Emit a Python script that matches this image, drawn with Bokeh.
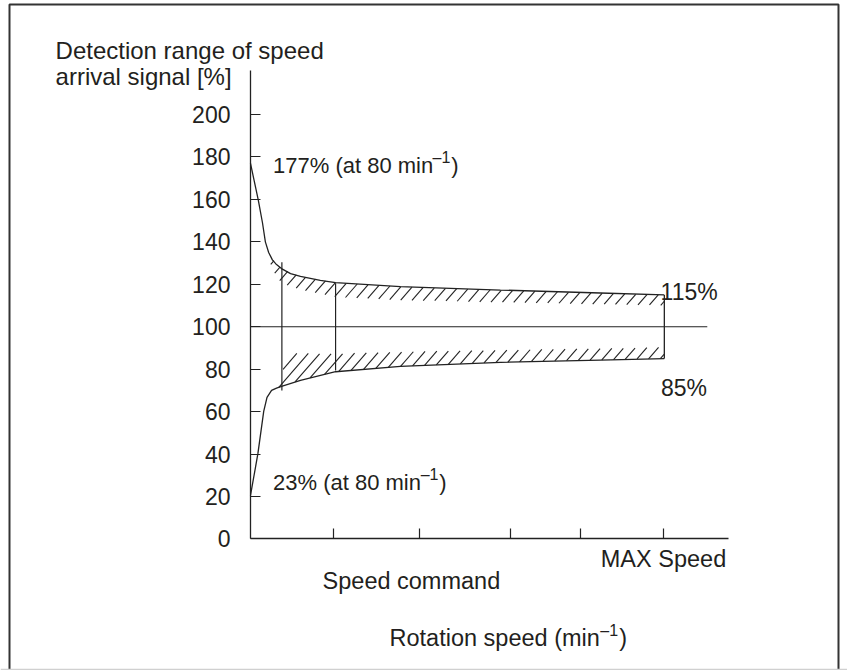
import numpy as np
from bokeh.plotting import figure
from bokeh.models import LinearAxis, FixedTicker, Label, Range1d, BoxAnnotation, Span
from bokeh.embed import file_html
from bokeh.resources import INLINE

# ---------------- data ----------------
y_ticks = [0, 20, 40, 60, 80, 100, 120, 140, 160, 180, 200]
x_ticks = [20, 41, 63, 80, 100]
x_tick_labels = ["", "", "", "", "MAX Speed"]

# upper limit curve of the detection range [%] vs speed (MAX speed = 100)
upper_x = [0, 1.9, 2.9, 3.6, 4.4, 5.3, 6.3, 7.5, 9.7, 12.1, 16.9, 20.6, 36.3, 60.5, 84.7, 100.2]
upper_y = [177, 159.5, 149, 140, 135, 131.5, 129.3, 127.4, 125, 123.7, 121.8, 120.8, 118.9, 117.3, 115.9, 115]

# lower limit curve
lower_x = [0, 1.8, 3.2, 4.0, 5.1, 6.3, 7.7, 12.1, 20.6, 36.3, 60.5, 84.7, 100.2]
lower_y = [20.5, 40.3, 60.1, 66.7, 70, 71.1, 72, 74.7, 78.8, 81.3, 83.2, 84.3, 85]

# hatched tolerance bands
upper_hatch_x = [4.9, 7.5, 12.1, 20.6, 36.3, 60.5, 100.2]
upper_hatch_bottom = [128, 120.5, 117.5, 114, 112.5, 111.5, 110]
lower_hatch_x = [5.1, 7.7, 9.2, 12.1, 20.6, 36.3, 60.5, 100.2]
lower_hatch_top = [71, 79, 87.5, 87.5, 87.3, 88.2, 89, 90.3]

# speed command markers
cmd_x = [7.6, 20.6]
cmd_low = [70, 79.4]
cmd_high = [130.4, 120.5]

ref_level = 100
ref_line_end = 110.6
x_axis_end = 115.7
y_axis_end = 220.7

# ---------------- styles ----------------
INK = "#222222"
TXT = "#231f20"
FONT = "Liberation Sans"
HATCH_STEP_PX = 11.5
HATCH_SLOPE = 1.15

xr = Range1d(-60.53, 144.55)
yr = Range1d(-61.96, 253.71)
p = figure(width=847, height=670, x_range=xr, y_range=yr,
           output_backend="svg", toolbar_location=None,
           x_axis_type=None, y_axis_type=None, min_border=0)
p.grid.visible = False
p.outline_line_color = None
p.background_fill_color = "white"
p.border_fill_color = "white"

# page frame
p.add_layout(BoxAnnotation(left=-58.35, right=142.37, top=251.83, bottom=-70,
                           fill_alpha=0, line_color="#333333", line_alpha=1.0, line_width=2))
p.add_layout(Span(location=-61.48, dimension="width", line_color="#d0d0d0", line_width=1.5))

# pixels per data unit (from the figure's own size and ranges)
sx = p.width / (xr.end - xr.start)
sy = p.height / (yr.end - yr.start)


def hatch_segments(hx, top, bot):
    """Diagonal hatch strokes clipped to the band between bot and top."""
    X = np.arange(hx[0] * sx, hx[-1] * sx, 0.25)
    xd = X / sx
    T = np.interp(xd, hx, top) * sy
    B = np.interp(xd, hx, bot) * sy
    c_all = X - T / HATCH_SLOPE
    c_lo = np.floor(c_all.min() / HATCH_STEP_PX) * HATCH_STEP_PX
    c_hi = (X - B / HATCH_SLOPE).max()
    x0s, y0s, x1s, y1s = [], [], [], []
    for c in np.arange(c_lo, c_hi, HATCH_STEP_PX):
        Y = (X - c) * HATCH_SLOPE
        idx = np.where((Y >= B) & (Y <= T))[0]
        if len(idx) < 2:
            continue
        a, b = X[idx[0]], X[idx[-1]]
        x0s.append(a / sx); y0s.append((a - c) * HATCH_SLOPE / sy)
        x1s.append(b / sx); y1s.append((b - c) * HATCH_SLOPE / sy)
    return x0s, y0s, x1s, y1s


ut = np.interp(upper_hatch_x, upper_x, upper_y)
hx0, hy0, hx1, hy1 = hatch_segments(upper_hatch_x, ut, upper_hatch_bottom)
p.segment(x0=hx0, y0=hy0, x1=hx1, y1=hy1, line_color=INK, line_width=1.1)
lb = np.interp(lower_hatch_x, lower_x, lower_y)
hx0, hy0, hx1, hy1 = hatch_segments(lower_hatch_x, lower_hatch_top, lb)
p.segment(x0=hx0, y0=hy0, x1=hx1, y1=hy1, line_color=INK, line_width=1.1)

# curves
p.line(upper_x, upper_y, line_color=INK, line_width=1.3)
p.line(lower_x, lower_y, line_color=INK, line_width=1.3)

# reference line at 100 %
p.segment(x0=[0], y0=[ref_level], x1=[ref_line_end], y1=[ref_level], line_color=INK, line_width=1.2)

# speed-command verticals and right end of band
p.segment(x0=cmd_x, y0=cmd_low, x1=cmd_x, y1=cmd_high, line_color=INK, line_width=1.2)
p.segment(x0=[upper_x[-1]], y0=[lower_y[-1]], x1=[upper_x[-1]], y1=[upper_y[-1]],
          line_color=INK, line_width=1.3)

# axes
yaxis = LinearAxis(fixed_location=0, bounds=(0, y_axis_end),
                   ticker=FixedTicker(ticks=y_ticks),
                   major_tick_in=10, major_tick_out=0, minor_tick_in=0, minor_tick_out=0,
                   major_label_standoff=20, axis_line_color=INK, major_tick_line_color=INK,
                   axis_line_width=1.3, major_tick_line_width=1.2,
                   major_label_text_font_size="23px", major_label_text_font=FONT,
                   major_label_text_color=TXT)
p.add_layout(yaxis, "left")

xaxis = LinearAxis(fixed_location=0, bounds=(0, x_axis_end),
                   ticker=FixedTicker(ticks=x_ticks),
                   major_label_overrides={t: l for t, l in zip(x_ticks, x_tick_labels)},
                   major_tick_in=10, major_tick_out=0, minor_tick_in=0, minor_tick_out=0,
                   major_label_standoff=7, axis_line_color=INK, major_tick_line_color=INK,
                   axis_line_width=1.3, major_tick_line_width=1.2,
                   major_label_text_font_size="23.5px", major_label_text_font=FONT,
                   major_label_text_color=TXT)
p.add_layout(xaxis, "below")


def lab(x, y, text, size="23px", align="left"):
    p.add_layout(Label(x=x, y=y, text=text, text_font=FONT, text_font_size=size,
                       text_color=TXT, text_baseline="alphabetic", text_align=align))


lab(-47.2, 230.2, "Detection range of speed", "24px")
lab(-47.2, 217.9, "arrival signal [%]", "24px")

lab(5.45, 176.0, "177% (at 80 min", "22px")
lab(44.07, 179.9, "–1", "16px")
lab(48.6, 176.0, ")", "22px")

lab(5.45, 26.5, "23% (at 80 min", "22px")
lab(41.2, 30.4, "–1", "16px")
lab(45.7, 26.5, ")", "22px")

lab(99.3, 116.3, "115%")
lab(99.4, 71.2, "85%")

lab(38.96, -19.9, "Speed command", "23.5px", align="center")
lab(33.66, -46.6, "Rotation speed (min", "23.5px")
lab(84.7, -43.1, "–1", "16px")
lab(89.3, -46.6, ")", "23.5px")

open("out.html", "w").write(file_html(p, INLINE))
